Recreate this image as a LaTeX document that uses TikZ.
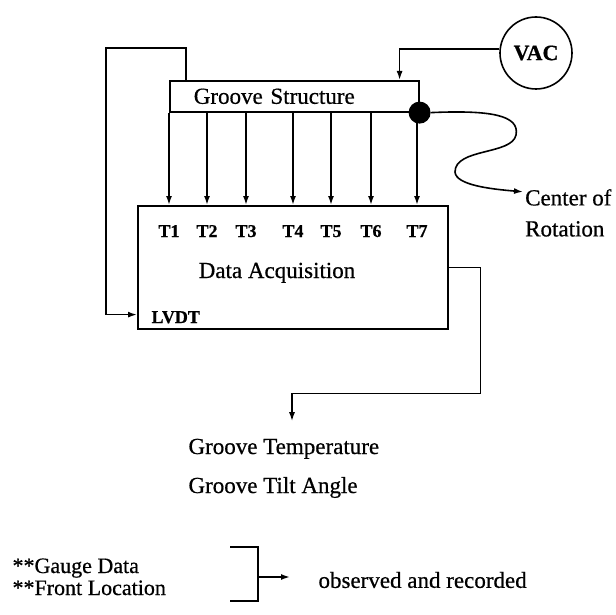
\documentclass[tikz,border=0pt]{standalone}
\usepackage{fontspec}
\setmainfont[FakeBold=0.6]{Liberation Serif}
\usepackage{tikz}
\usetikzlibrary{arrows.meta, positioning}
\tikzset{
  font=\fontsize{23}{27}\selectfont,
  baseblock/.style={rectangle, draw=black, line width=1.6pt, inner sep=0pt},
  grooveblock/.style={baseblock, minimum width=249pt, minimum height=31pt,
    text width=201pt, inner xsep=24pt, align=left, anchor=north west},
  daqblock/.style={baseblock, minimum width=310pt, minimum height=123pt, anchor=north west},
  sourceblock/.style={circle, draw=black, line width=1.6pt, minimum size=72pt,
    inner sep=0pt, font=\fontsize{22}{26}\selectfont\bfseries},
  pivotdot/.style={circle, fill=black, minimum size=22pt, inner sep=0pt},
  chanlabel/.style={anchor=base, font=\fontsize{18}{20}\selectfont\bfseries},
  plainlabel/.style={anchor=base west},
  flowline/.style={draw=black, -{Latex[length=9pt, width=6pt]}, line width=1.6pt},
  plainline/.style={draw=black, line width=1.6pt}
}

\begin{document}
\begin{tikzpicture}[x=1pt, y=-1pt]
  \useasboundingbox (0,0) rectangle (616,615);

  % groove, source and acquisition unit
  \node[grooveblock] (groove) at (169,80) {Groove Structure};
  \node[daqblock] (daq) at (137,205) {};
  \node[sourceblock] (vac) at (536,53) {VAC};
  \node[pivotdot] (pivot) at (groove.south east) {};

  % thermocouple channels
  \foreach \i/\x in {1/169, 2/207, 3/246, 4/293, 5/331, 6/371, 7/417} {
    \node[chanlabel] (t\i) at (\x,237) {T\i};
    \draw[flowline] (groove.south -| t\i) -- (daq.north -| t\i);
  }

  \node[anchor=base] (daqlabel) at (277,278) {Data Acquisition};
  \node[chanlabel, anchor=base west] (lvdt) at (148,323) {LVDT};

  \node[align=left, anchor=north west, inner sep=2pt, font=\fontsize{23}{31}\selectfont] (rot) at (523,187) {Center of\\Rotation};

  \node[plainlabel] (temp) at (185,454) {Groove Temperature};
  \node[plainlabel] (tilt) at (185,493) {Groove Tilt Angle};

  % legend
  \node[plainlabel, font=\fontsize{22}{26}\selectfont] (gauge) at (9,573) {**Gauge Data};
  \node[plainlabel, font=\fontsize{22}{26}\selectfont] (front) at (9,595) {**Front Location};
  \coordinate (brtop) at (230,547);
  \coordinate (brbot) at (230,601);
  \coordinate (brmid) at (258,577);
  \coordinate (brout) at (290,577);
  \node[right=57pt of brmid, yshift=-3pt] (observed) {observed and recorded};

  % connectors
  \draw[flowline] (vac.174) -| ([xshift=-20pt]groove.north east);
  \draw[flowline] ([xshift=17pt]groove.north west) |- ++(-80,-32) |- ([yshift=15pt]daq.south west);
  \draw[flowline] (daq.east) -| ++(32,126) -| ([xshift=107pt, yshift=14pt]temp.north west);
  \draw[flowline] (pivot.east) .. controls (490,110) and (520,115) .. (516,135)
    .. controls (512,155) and (455,148) .. (455,172)
    .. controls (456,185) and (490,189) .. (rot.155);
  \draw[plainline] (brtop) -| (brmid) |- (brbot);
  \draw[flowline] (brmid) -- (brout);
\end{tikzpicture}
\end{document}
